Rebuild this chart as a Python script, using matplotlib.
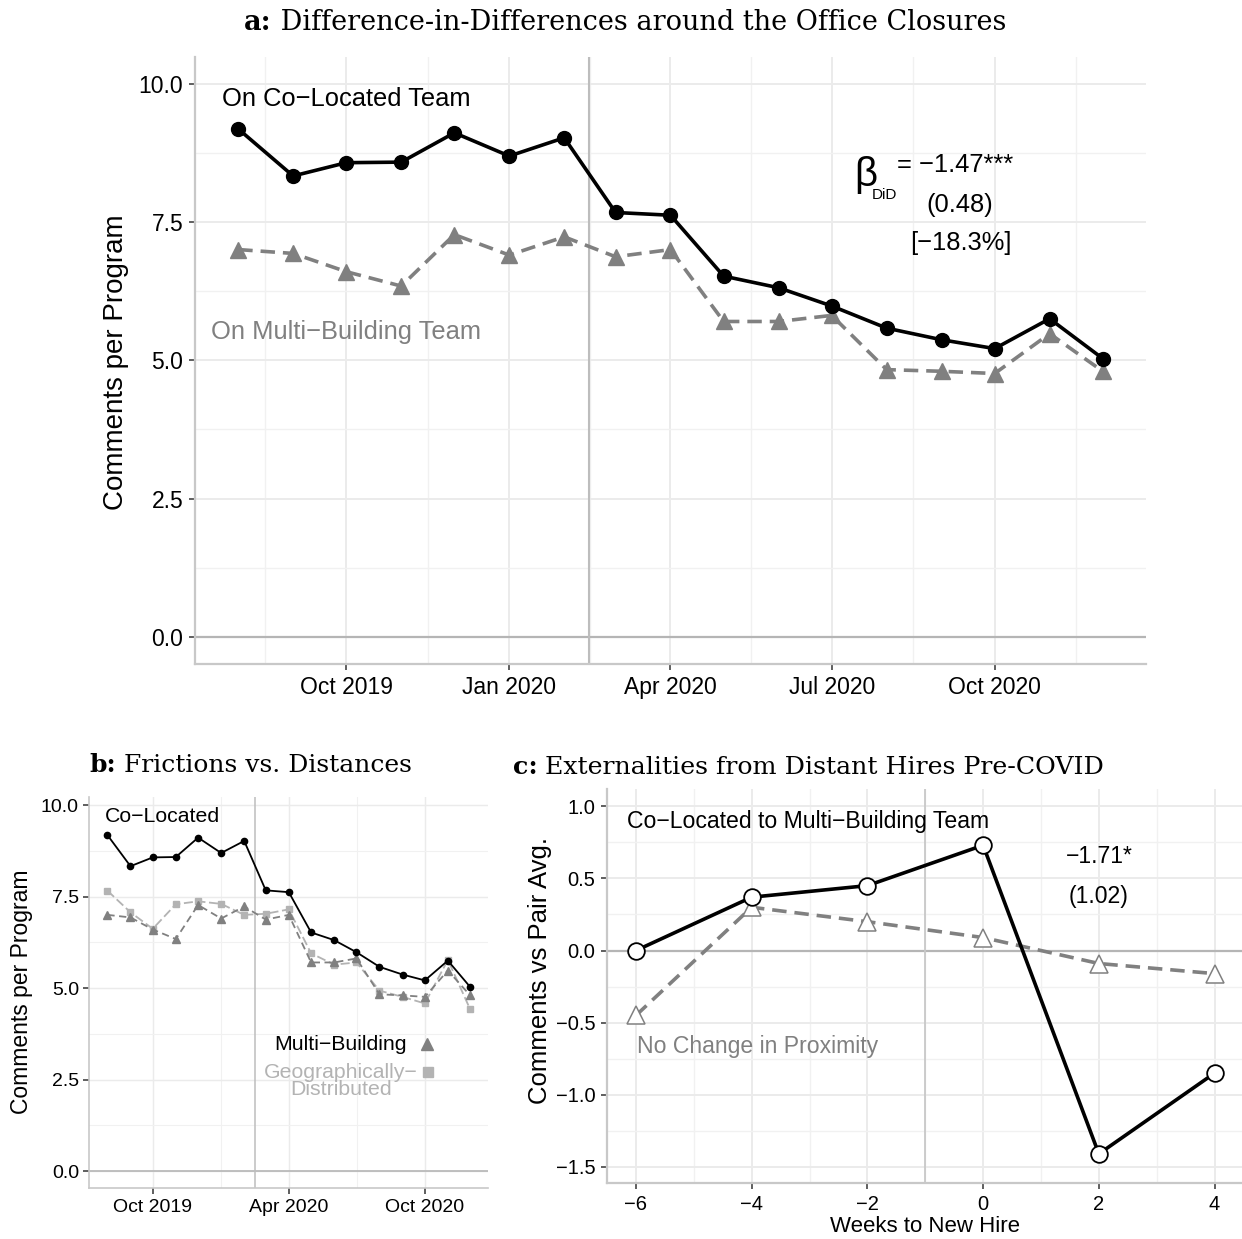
import numpy as np
import pandas as pd
import matplotlib
matplotlib.use("Agg")
import matplotlib.pyplot as plt
import matplotlib.dates as mdates
from matplotlib.ticker import FixedLocator, FuncFormatter

plt.rcParams['font.family'] = ['Liberation Sans', 'DejaVu Sans']

# monthly comments per program, Aug 2019 - Dec 2020
months = pd.date_range("2019-08-01", "2020-12-01", freq="MS")
co_located = [9.18, 8.33, 8.57, 8.58, 9.11, 8.69, 9.02, 7.67, 7.62,
              6.52, 6.31, 5.98, 5.58, 5.37, 5.21, 5.75, 5.03]
multi_building = [7.00, 6.93, 6.60, 6.34, 7.27, 6.90, 7.23, 6.87, 7.00,
                  5.70, 5.70, 5.81, 4.83, 4.80, 4.76, 5.48, 4.80]
geo_distributed = [7.66, 7.07, 6.62, 7.29, 7.37, 7.30, 7.00, 7.03, 7.15,
                   5.95, 5.64, 5.70, 4.93, 4.76, 4.58, 5.77, 4.42]
closure = pd.Timestamp("2020-02-15")

# event study around a new hire joining the team
weeks = [-6, -4, -2, 0, 2, 4]
hire_multi = [0.0, 0.37, 0.45, 0.73, -1.41, -0.85]
hire_same = [-0.45, 0.30, 0.20, 0.09, -0.09, -0.16]

W, H = 1242, 1239
fig = plt.figure(figsize=(W / 100, H / 100), dpi=100)
fig.patch.set_facecolor('white')

GRAY = '#808080'
LIGHT = '#b3b3b3'
SERIF = 'DejaVu Serif'


def px(x, y):
    return x / W, 1 - y / H


def num(d):
    return mdates.date2num(pd.Timestamp(d))


def fmt1(v, p):
    return f"{v:.1f}".replace("-", "\u2212")


def style_axes(ax, s=1.0):
    for k in ['top', 'right']:
        ax.spines[k].set_visible(False)
    for k in ['left', 'bottom']:
        ax.spines[k].set_color('#c8c8c8')
        ax.spines[k].set_linewidth(1.6 * s)
    ax.set_axisbelow(True)
    ax.grid(which='major', color='#ebebeb', lw=1.4 * s)
    ax.grid(which='minor', color='#f1f1f1', lw=1.0 * s)
    ax.tick_params(which='major', color='#333333', length=4.5, width=1.1, pad=4)
    ax.tick_params(which='minor', length=0)


def date_axis(ax, majors):
    m = np.array([num(d) for d in majors])
    step = m[1] - m[0]
    ext = np.concatenate([[m[0] - step], m, [m[-1] + step]])
    mids = (ext[:-1] + ext[1:]) / 2
    ax.xaxis.set_major_locator(FixedLocator(m))
    ax.xaxis.set_minor_locator(FixedLocator(mids))
    ax.xaxis.set_major_formatter(mdates.DateFormatter("%b %Y"))
    pad = pd.Timedelta(days=24.4)
    ax.set_xlim(num(months[0] - pad), num(months[-1] + pad))


def panel_title(xc, yc, letter, rest, size):
    r = fig.canvas.get_renderer()
    t1 = fig.text(0, 1 - yc / H, letter + ":", family=SERIF, fontweight='bold',
                  fontsize=size, va='center')
    t2 = fig.text(0, 1 - yc / H, " " + rest, family=SERIF, fontsize=size, va='center')
    w1 = t1.get_window_extent(r).width
    w2 = t2.get_window_extent(r).width
    x0 = xc - (w1 + w2) / 2
    t1.set_x(x0 / W)
    t2.set_x((x0 + w1) / W)


# ---- a: difference-in-differences ----
ax = fig.add_axes([195 / W, 1 - 664 / H, 951 / W, 607 / H])
style_axes(ax)
date_axis(ax, ["2019-10-01", "2020-01-01", "2020-04-01", "2020-07-01", "2020-10-01"])
ax.set_ylim(-0.49, 10.48)
ax.yaxis.set_major_locator(FixedLocator([0, 2.5, 5, 7.5, 10]))
ax.yaxis.set_minor_locator(FixedLocator([1.25, 3.75, 6.25, 8.75]))
ax.yaxis.set_major_formatter(FuncFormatter(fmt1))
ax.tick_params(labelsize=16.5)
ax.axhline(0, color='#b5b5b5', lw=1.6, zorder=1)
ax.axvline(num(closure), color='#bdbdbd', lw=1.5, zorder=1)
ax.plot(months, multi_building, color=GRAY, lw=2.6, ls=(0, (4, 2.2)),
        marker='^', ms=11, zorder=3)
ax.plot(months, co_located, color='black', lw=2.6, marker='o', ms=10, zorder=4)
ax.text(num("2019-10-01"), 9.72, "On Co\u2212Located Team", ha='center', va='center',
        fontsize=18.4)
ax.text(num("2019-10-01"), 5.51, "On Multi\u2212Building Team", ha='center', va='center',
        fontsize=18.4, color=GRAY)
ax.text(num("2020-07-20"), 8.35, "\u03b2", ha='center', va='center', fontsize=29)
ax.text(num("2020-07-31"), 7.98, "DiD", ha='center', va='center', fontsize=11)
ax.text(num("2020-08-07"), 8.52, "= \u22121.47***", ha='left', va='center', fontsize=18.4)
ax.text(num("2020-09-11"), 7.80, "(0.48)", ha='center', va='center', fontsize=18.4)
ax.text(num("2020-09-12"), 7.11, "[\u221218.3%]", ha='center', va='center', fontsize=18.4)
fig.text(*px(116, 362), "Comments per Program", rotation=90, ha='center', va='center',
         fontsize=20)
panel_title(625, 22, "a", "Difference-in-Differences around the Office Closures", 19.5)

# ---- b: frictions vs distances ----
ax = fig.add_axes([89.3 / W, 1 - 1188.3 / H, 399 / W, 391.3 / H])
style_axes(ax, 0.75)
date_axis(ax, ["2019-10-01", "2020-04-01", "2020-10-01"])
ax.set_ylim(-0.47, 10.22)
ax.yaxis.set_major_locator(FixedLocator([0, 2.5, 5, 7.5, 10]))
ax.yaxis.set_minor_locator(FixedLocator([1.25, 3.75, 6.25, 8.75]))
ax.yaxis.set_major_formatter(FuncFormatter(fmt1))
ax.tick_params(labelsize=14, pad=3)
ax.axhline(0, color='#b5b5b5', lw=1.2, zorder=1)
ax.axvline(num(closure), color='#bdbdbd', lw=1.1, zorder=1)
ax.plot(months, geo_distributed, color=LIGHT, lw=1.3, ls=(0, (5, 2)),
        marker='s', ms=5, zorder=3)
ax.plot(months, multi_building, color=GRAY, lw=1.3, ls=(0, (4, 2.5)),
        marker='^', ms=6, zorder=3)
ax.plot(months, co_located, color='black', lw=1.3, marker='o', ms=4.5, zorder=4)
ax.text(num("2019-10-14"), 9.70, "Co\u2212Located", ha='center', va='center', fontsize=15.3)
ax.text(num("2020-06-10"), 3.47, "Multi\u2212Building", ha='center', va='center',
        fontsize=15.3)
ax.text(num("2020-06-10"), 2.455, "Geographically\u2212\nDistributed", ha='center',
        va='center', fontsize=15.3, color=LIGHT, linespacing=0.85)
ax.plot([num("2020-10-04")], [3.47], marker='^', ms=8, color=GRAY, ls='none')
ax.plot([num("2020-10-05")], [2.70], marker='s', ms=6.5, color=LIGHT, ls='none')
fig.text(*px(21.7, 992), "Comments per Program", rotation=90, ha='center', va='center',
         fontsize=16.5)
panel_title(251, 765, "b", "Frictions vs. Distances", 18)

# ---- c: externalities from distant hires ----
ax = fig.add_axes([607 / W, 1 - 1183.3 / H, 636.5 / W, 394 / H])
style_axes(ax)
ax.set_xlim(-6.5, 4.5)
ax.set_ylim(-1.614, 1.118)
ax.xaxis.set_major_locator(FixedLocator(weeks))
ax.xaxis.set_minor_locator(FixedLocator([-5, -3, -1, 1, 3]))
ax.xaxis.set_major_formatter(FuncFormatter(lambda v, p: f"{v:.0f}".replace("-", "\u2212")))
ax.yaxis.set_major_locator(FixedLocator([-1.5, -1.0, -0.5, 0.0, 0.5, 1.0]))
ax.yaxis.set_minor_locator(FixedLocator([-1.25, -0.75, -0.25, 0.25, 0.75]))
ax.yaxis.set_major_formatter(FuncFormatter(fmt1))
ax.tick_params(labelsize=14.5)
ax.axhline(0, color='#b5b5b5', lw=1.6, zorder=1)
ax.axvline(-1, color='#c8c8c8', lw=1.3, zorder=1)
ax.plot(weeks, hire_same, color=GRAY, lw=2.6, ls=(0, (4, 2.2)), marker='^', ms=13,
        mfc='white', mec=GRAY, mew=1.1, zorder=3)
ax.plot(weeks, hire_multi, color='black', lw=2.6, marker='o', ms=12,
        mfc='white', mec='black', mew=1.3, zorder=4)
ax.text(-3.03, 0.893, "Co\u2212Located to Multi\u2212Building Team", ha='center',
        va='center', fontsize=16.6)
ax.text(2.0, 0.655, "\u22121.71*", ha='center', va='center', fontsize=16.6)
ax.text(2.0, 0.373, "(1.02)", ha='center', va='center', fontsize=16.6)
ax.text(-3.9, -0.667, "No Change in Proximity", ha='center', va='center',
        fontsize=16.6, color=GRAY)
fig.text(*px(540, 970), "Comments vs Pair Avg.", rotation=90, ha='center', va='center',
         fontsize=18.5)
fig.text(*px(925, 1226), "Weeks to New Hire", ha='center', va='center', fontsize=16)
panel_title(808.5, 767, "c", "Externalities from Distant Hires Pre-COVID", 18.2)

fig.savefig("out.png", dpi=100, facecolor='white')
